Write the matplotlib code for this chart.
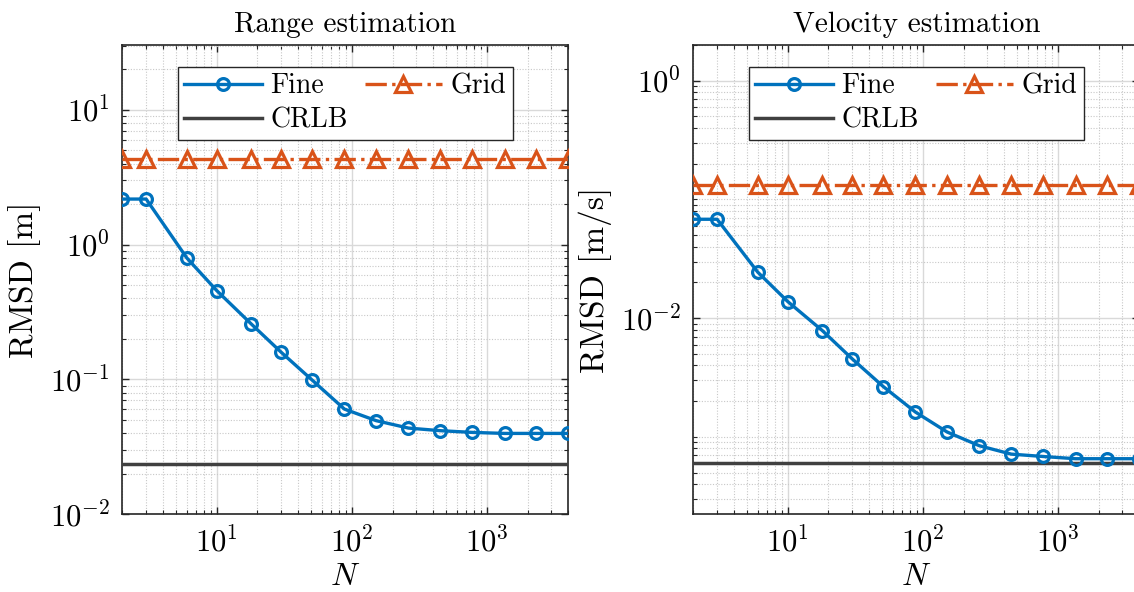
import numpy as np
import matplotlib
matplotlib.use("Agg")
from matplotlib import pyplot as plt
from matplotlib.ticker import LogLocator, FixedLocator, LogFormatterMathtext, NullFormatter

# data
N = [2, 3, 6, 10, 18, 30, 51, 88, 151, 262, 451, 774, 1349, 2317, 4000]

range_fine = [2.18, 2.18, 0.797, 0.456, 0.258, 0.159, 0.0986, 0.0603, 0.0495,
              0.0436, 0.0417, 0.0405, 0.0398, 0.0398, 0.0398]
range_grid = [4.32] * len(N)
range_crlb = 0.0236

vel_fine = [0.0681, 0.0681, 0.0244, 0.0138, 0.00787, 0.00454, 0.00265, 0.00162,
            0.00110, 0.000842, 0.000716, 0.000684, 0.000655, 0.000655, 0.000655]
vel_grid = [0.1324] * len(N)
vel_crlb = 0.000600

titles = ["Range estimation", "Velocity estimation"]
ylabels = ["RMSD [m]", "RMSD [m/s]"]
ylims = [(1e-2, 30.3), (2.23e-4, 2.0)]

blue = "#0072BD"
orange = "#D95319"
gray = "#404040"

plt.rcParams["font.family"] = "serif"
plt.rcParams["font.serif"] = ["cmr10", "DejaVu Serif"]
plt.rcParams["mathtext.fontset"] = "cm"
plt.rcParams["axes.formatter.use_mathtext"] = True

fig = plt.figure(figsize=(11.34, 5.92), dpi=100)
ax1 = fig.add_axes([0.1079, 0.1313, 0.3933, 0.7927])
ax2 = fig.add_axes([0.6114, 0.1313, 0.3933, 0.7927])

datasets = [(range_fine, range_grid, range_crlb), (vel_fine, vel_grid, vel_crlb)]

for k, ax in enumerate([ax1, ax2]):
    fine, grid, crlb = datasets[k]
    ax.set_xscale("log")
    ax.set_yscale("log")
    l1, = ax.plot(N, fine, "-o", color=blue, lw=2.4, ms=8.5, mew=2.3,
                  mfc="none", label="Fine", zorder=4)
    l3, = ax.plot(N, grid, "-.^", color=orange, lw=2.4, ms=11, mew=2.3,
                  mfc="none", label="Grid", zorder=4)
    l2 = ax.axhline(crlb, color=gray, lw=2.5, label="CRLB", zorder=3)

    ax.set_xlim(2, 4000)
    ax.set_ylim(*ylims[k])
    ax.xaxis.set_major_locator(LogLocator(base=10, numticks=20))
    ax.xaxis.set_minor_locator(LogLocator(base=10, subs=np.arange(2, 10), numticks=50))
    if k == 0:
        ax.yaxis.set_major_locator(LogLocator(base=10, numticks=20))
        ax.yaxis.set_minor_locator(LogLocator(base=10, subs=np.arange(2, 10), numticks=50))
    else:
        ax.yaxis.set_major_locator(FixedLocator([1e-2, 1e0]))
        ax.yaxis.set_minor_locator(LogLocator(base=10, subs=np.arange(1, 10), numticks=50))
    ax.xaxis.set_major_formatter(LogFormatterMathtext())
    ax.yaxis.set_major_formatter(LogFormatterMathtext())
    ax.xaxis.set_minor_formatter(NullFormatter())
    ax.yaxis.set_minor_formatter(NullFormatter())

    ax.grid(True, which="major", color="#d9d9d9", lw=1.0, ls="-")
    ax.grid(True, which="minor", color="#c8c8c8", lw=0.8, ls=(0, (1, 1.5)))
    ax.set_axisbelow(True)
    ax.tick_params(which="both", direction="in", top=True, right=True,
                   color="#262626", labelsize=22)
    ax.tick_params(axis="x", which="both", pad=9)
    ax.tick_params(axis="y", which="both", pad=9)
    ax.tick_params(which="major", length=5, width=1.0)
    ax.tick_params(which="minor", length=3, width=0.8)
    for s in ax.spines.values():
        s.set_color("#262626")
        s.set_linewidth(1.2)

    ax.set_title(titles[k], fontsize=21, pad=9)
    ax.set_xlabel("$N$", fontsize=23, labelpad=4)
    ax.set_ylabel(ylabels[k], fontsize=24, labelpad=6)

    leg = ax.legend(handles=[l1, l2, l3], ncol=2, loc="upper center",
                    bbox_to_anchor=(0.5, 0.953), borderaxespad=0, fontsize=20,
                    frameon=True, fancybox=False, framealpha=1.0,
                    edgecolor="#262626", handlelength=2.8, columnspacing=0.6,
                    handletextpad=0.3, borderpad=0.22, labelspacing=0.28)
    leg.get_frame().set_linewidth(1.0)

fig.savefig("out.png", dpi=100)
